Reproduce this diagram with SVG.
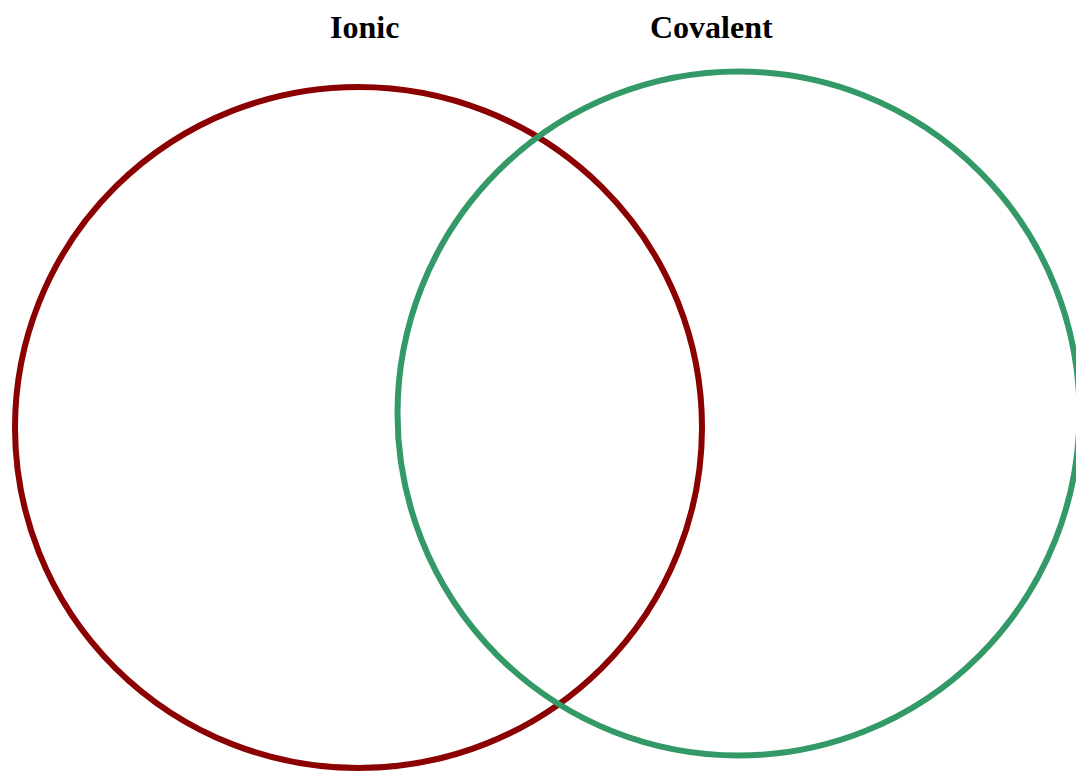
<svg xmlns="http://www.w3.org/2000/svg" width="1076" height="771" viewBox="0 0 1076 771">
<style>
.lbl{font-family:"Liberation Serif","Times New Roman",serif;font-weight:bold;font-size:32px;fill:#000}
.c{fill:none;stroke-width:6}
</style>
<rect width="1076" height="771" fill="#fff"/>
<g id="ionic">
<ellipse class="c" cx="358.5" cy="427.5" rx="343.5" ry="340.5" stroke="#8b0000"/>
<text class="lbl" x="330" y="38">Ionic</text>
</g>
<g id="covalent">
<ellipse class="c" cx="738.5" cy="413.5" rx="341" ry="342" stroke="#339966"/>
<text class="lbl" x="650" y="38">Covalent</text>
</g>
<g id="connectors"></g>
</svg>
